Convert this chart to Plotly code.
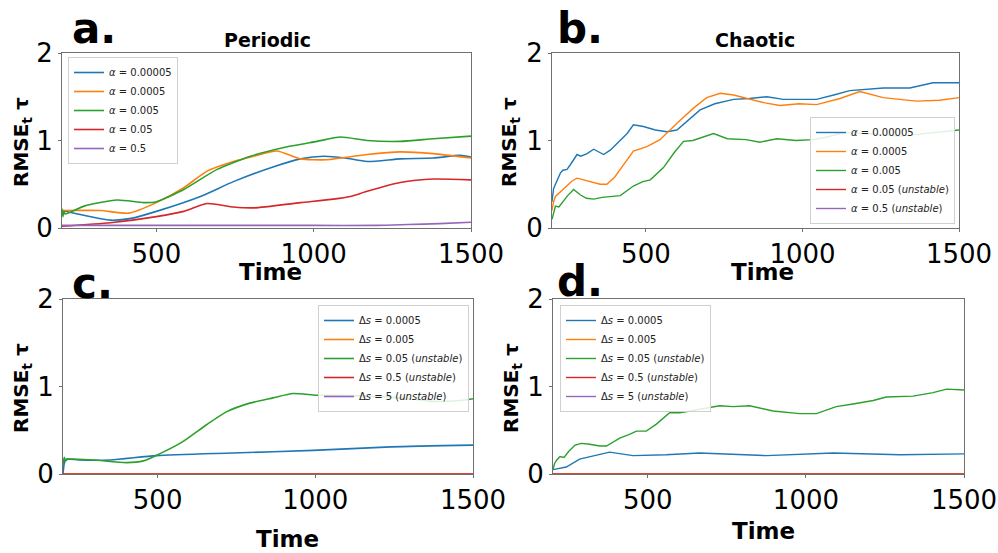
import plotly.graph_objects as go

COLORS = ["#1f77b4", "#ff7f0e", "#2ca02c", "#d62728", "#9467bd"]
FONT = "DejaVu Sans"

# ---------------- Panel a (Periodic) ----------------
a_labels = ["<i>α</i> = 0.00005", "<i>α</i> = 0.0005", "<i>α</i> = 0.005",
            "<i>α</i> = 0.05", "<i>α</i> = 0.5"]
a_t0 = [200, 250, 354, 420, 500, 640, 745, 873, 958, 1032, 1100, 1170, 1275, 1380, 1466, 1500]
a_y0 = [0.20, 0.16, 0.09, 0.11, 0.19, 0.36, 0.53, 0.70, 0.79, 0.82, 0.80, 0.76, 0.79, 0.80, 0.83, 0.81]
a_t1 = [200, 322, 412, 500, 587, 661, 745, 809, 883, 958, 1042, 1170, 1275, 1380, 1500]
a_y1 = [0.20, 0.20, 0.17, 0.29, 0.46, 0.65, 0.76, 0.82, 0.88, 0.79, 0.78, 0.84, 0.87, 0.85, 0.80]
a_t2 = [200, 203, 206, 210, 270, 375, 460, 500, 587, 693, 799, 905, 1010, 1085, 1170, 1275, 1380, 1500]
a_y2 = [0.22, 0.13, 0.19, 0.16, 0.25, 0.32, 0.29, 0.30, 0.44, 0.67, 0.82, 0.92, 0.99, 1.04, 1.00, 0.99, 1.02, 1.05]
a_t3 = [200, 354, 500, 587, 661, 745, 809, 958, 1063, 1116, 1170, 1275, 1380, 1500]
a_y3 = [0.02, 0.06, 0.13, 0.19, 0.28, 0.24, 0.23, 0.29, 0.33, 0.36, 0.42, 0.52, 0.56, 0.55]
a_t4 = [200, 600, 1000, 1200, 1300, 1400, 1500]
a_y4 = [0.03, 0.03, 0.03, 0.03, 0.04, 0.05, 0.065]

# ---------------- Panel b (Chaotic) ----------------
b_labels = ["<i>α</i> = 0.00005", "<i>α</i> = 0.0005", "<i>α</i> = 0.005",
            "<i>α</i> = 0.05 (<i>unstable</i>)", "<i>α</i> = 0.5 (<i>unstable</i>)"]
b_t0 = [200, 205, 211, 220, 227, 235, 248, 258, 270, 280, 292, 312, 333, 350, 365, 386, 418, 440, 460,
        492, 530, 567, 599, 640, 673, 720, 780, 830, 886, 939, 992, 1045, 1100, 1151, 1258, 1343, 1417, 1500]
b_y0 = [0.30, 0.45, 0.50, 0.58, 0.63, 0.66, 0.67, 0.72, 0.78, 0.84, 0.82, 0.85, 0.90, 0.87, 0.84, 0.89, 1.00, 1.08, 1.18,
        1.16, 1.12, 1.10, 1.12, 1.25, 1.35, 1.42, 1.47, 1.48, 1.50, 1.47, 1.47, 1.47, 1.52, 1.57, 1.60, 1.60, 1.66, 1.66]
b_t1 = [200, 205, 211, 230, 248, 265, 280, 300, 333, 354, 375, 400, 418, 440, 460, 503, 545, 600, 652, 694,
        737, 780, 833, 880, 928, 990, 1045, 1120, 1183, 1258, 1364, 1438, 1500]
b_y1 = [0.20, 0.30, 0.36, 0.42, 0.48, 0.54, 0.57, 0.55, 0.52, 0.50, 0.50, 0.58, 0.67, 0.78, 0.88, 0.93, 1.01, 1.20, 1.37, 1.49,
        1.54, 1.52, 1.47, 1.43, 1.40, 1.42, 1.41, 1.48, 1.56, 1.49, 1.45, 1.46, 1.49]
b_t2 = [200, 205, 211, 222, 235, 250, 269, 290, 310, 333, 360, 386, 418, 460, 490, 514, 556, 590, 620, 650,
        716, 760, 820, 864, 918, 980, 1034, 1080, 1130, 1200, 1311, 1417, 1500]
b_y2 = [0.10, 0.18, 0.25, 0.24, 0.30, 0.37, 0.44, 0.38, 0.34, 0.33, 0.35, 0.36, 0.37, 0.48, 0.53, 0.55, 0.69, 0.86, 0.99, 1.00,
        1.08, 1.02, 1.01, 0.98, 1.02, 1.00, 1.01, 1.04, 1.09, 1.08, 1.05, 1.09, 1.12]
b_t3 = []
b_y3 = []
b_t4 = []
b_y4 = []

# ---------------- Panel c ----------------
c_labels = ["Δ<i>s</i> = 0.0005", "Δ<i>s</i> = 0.005", "Δ<i>s</i> = 0.05 (<i>unstable</i>)",
            "Δ<i>s</i> = 0.5 (<i>unstable</i>)", "Δ<i>s</i> = 5 (<i>unstable</i>)"]
c_t0 = [200, 204, 210, 250, 350, 496, 739, 993, 1240, 1500]
c_y0 = [0.00, 0.12, 0.17, 0.16, 0.16, 0.21, 0.24, 0.27, 0.31, 0.33]
c_t1 = [200, 1500]
c_y1 = [0.0, 0.0]
c_t2 = [200, 204, 208, 215, 295, 401, 455, 506, 580, 654, 718, 792, 866, 929, 1003, 1056, 1162, 1267, 1373, 1458, 1500]
c_y2 = [0.10, 0.19, 0.15, 0.17, 0.16, 0.13, 0.15, 0.23, 0.37, 0.56, 0.71, 0.81, 0.87, 0.92, 0.90, 0.90, 0.89, 0.87, 0.83, 0.84, 0.86]
c_t3 = [200, 1500]
c_y3 = [0.0, 0.0]
c_t4 = []
c_y4 = []

# ---------------- Panel d ----------------
d_labels = c_labels
d_t0 = [200, 242, 284, 320, 379, 453, 558, 664, 875, 1086, 1297, 1500]
d_y0 = [0.05, 0.08, 0.17, 0.20, 0.25, 0.21, 0.22, 0.24, 0.21, 0.24, 0.22, 0.23]
d_t1 = [200, 1500]
d_y1 = [0.0, 0.0]
d_t2 = [200, 205, 212, 222, 235, 250, 270, 290, 316, 348, 369, 411, 440, 464, 495, 527, 569, 601, 664, 727,
        770, 822, 896, 980, 1033, 1096, 1149, 1213, 1254, 1339, 1402, 1445, 1500]
d_y2 = [0.05, 0.12, 0.16, 0.20, 0.19, 0.26, 0.33, 0.35, 0.34, 0.32, 0.32, 0.41, 0.45, 0.49, 0.49, 0.57, 0.70, 0.70, 0.74, 0.78,
        0.77, 0.78, 0.72, 0.69, 0.69, 0.77, 0.80, 0.84, 0.88, 0.89, 0.93, 0.97, 0.96]
d_t3 = [200, 1500]
d_y3 = [0.0, 0.0]
d_t4 = []
d_y4 = []

X_TICKS = [500, 1000, 1500]
Y_TICKS = [0, 1, 2]
X_RANGE = [200, 1500]
Y_RANGE = [0, 2]

W, H = 998, 553

def px(x):
    return x / W

def py(y):
    return 1 - y / H

panels = [
    ("a", "x", "y", a_labels, [(a_t0, a_y0), (a_t1, a_y1), (a_t2, a_y2), (a_t3, a_y3), (a_t4, a_y4)],
     "spline", "legend", (62, 471), (53, 228)),
    ("b", "x2", "y2", b_labels, [(b_t0, b_y0), (b_t1, b_y1), (b_t2, b_y2), (b_t3, b_y3), (b_t4, b_y4)],
     "linear", "legend2", (552, 959), (53, 228)),
    ("c", "x3", "y3", c_labels, [(c_t0, c_y0), (c_t1, c_y1), (c_t2, c_y2), (c_t3, c_y3), (c_t4, c_y4)],
     "spline", "legend3", (63, 473), (299, 474)),
    ("d", "x4", "y4", d_labels, [(d_t0, d_y0), (d_t1, d_y1), (d_t2, d_y2), (d_t3, d_y3), (d_t4, d_y4)],
     "linear", "legend4", (553, 964), (299, 474)),
]

fig = go.Figure()
for name, xa, ya, labels, data, shape, leg, xd, yd in panels:
    for i, ((t, v), lab) in enumerate(zip(data, labels)):
        if shape == "spline":
            ln = dict(color=COLORS[i], width=1.6, shape="spline", smoothing=0.6)
        else:
            ln = dict(color=COLORS[i], width=1.4)
        fig.add_trace(go.Scatter(
            x=t if t else [None], y=v if v else [None], mode="lines", name=lab,
            line=ln, xaxis=xa, yaxis=ya, legend=leg, showlegend=True))

layout = dict(
    width=W, height=H, margin=dict(l=0, r=0, t=0, b=0, autoexpand=False),
    paper_bgcolor="white", plot_bgcolor="white", showlegend=True,
    font=dict(family=FONT, color="black"),
)

axis_common = dict(showgrid=False, zeroline=False, showline=True, mirror=True, automargin=False,
                   linecolor="#707070", linewidth=1.2, ticks="outside", ticklen=3,
                   tickcolor="#707070", tickfont=dict(family=FONT, size=26, color="black"))

for k, (name, xa, ya, labels, data, shape, leg, xd, yd) in enumerate(panels):
    sx = "xaxis" if xa == "x" else "xaxis" + xa[1:]
    sy = "yaxis" if ya == "y" else "yaxis" + ya[1:]
    layout[sx] = dict(axis_common, domain=[px(xd[0]), px(xd[1])], range=X_RANGE,
                      tickvals=X_TICKS, anchor=ya)
    layout[sy] = dict(axis_common, domain=[py(yd[1]), py(yd[0])], range=Y_RANGE,
                      tickvals=Y_TICKS, anchor=xa)

leg_common = dict(font=dict(family=FONT, size=10, color="#222"), bgcolor="rgba(255,255,255,0.85)",
                  bordercolor="#d0d0d0", borderwidth=1, itemwidth=30, tracegroupgap=0)
layout["legend"] = dict(leg_common, x=px(68), y=py(57), xanchor="left", yanchor="top")
layout["legend2"] = dict(leg_common, x=px(955), y=py(224), xanchor="right", yanchor="bottom")
layout["legend3"] = dict(leg_common, x=px(469), y=py(305), xanchor="right", yanchor="top")
layout["legend4"] = dict(leg_common, x=px(560), y=py(305), xanchor="left", yanchor="top")

fig.update_layout(**layout)

def ann(text, x, y, size, xanchor="center", yanchor="middle", angle=0):
    fig.add_annotation(text=text, x=px(x), y=py(y), xref="paper", yref="paper",
                       showarrow=False, xanchor=xanchor, yanchor=yanchor, textangle=angle,
                       font=dict(family=FONT, size=size, color="black", weight="bold"))

# Panel letters
ann("a.", 70, 28, 42, xanchor="left")
ann("b.", 555, 28, 42, xanchor="left")
ann("c.", 70, 283, 42, xanchor="left")
ann("d.", 555, 281, 42, xanchor="left")
# Titles
ann("Periodic", 267, 40, 19)
ann("Chaotic", 755, 40, 19)
# X titles
ann("Time", 270, 272, 23)
ann("Time", 762, 272, 23)
ann("Time", 287, 539, 23)
ann("Time", 763, 531, 23)
# Y titles
ann("RMSE<sub>t</sub> τ", 22, 142, 20, angle=-90)
ann("RMSE<sub>t</sub> τ", 510, 142, 20, angle=-90)
ann("RMSE<sub>t</sub> τ", 22, 388, 20, angle=-90)
ann("RMSE<sub>t</sub> τ", 512, 388, 20, angle=-90)

fig.write_html("out.html")
